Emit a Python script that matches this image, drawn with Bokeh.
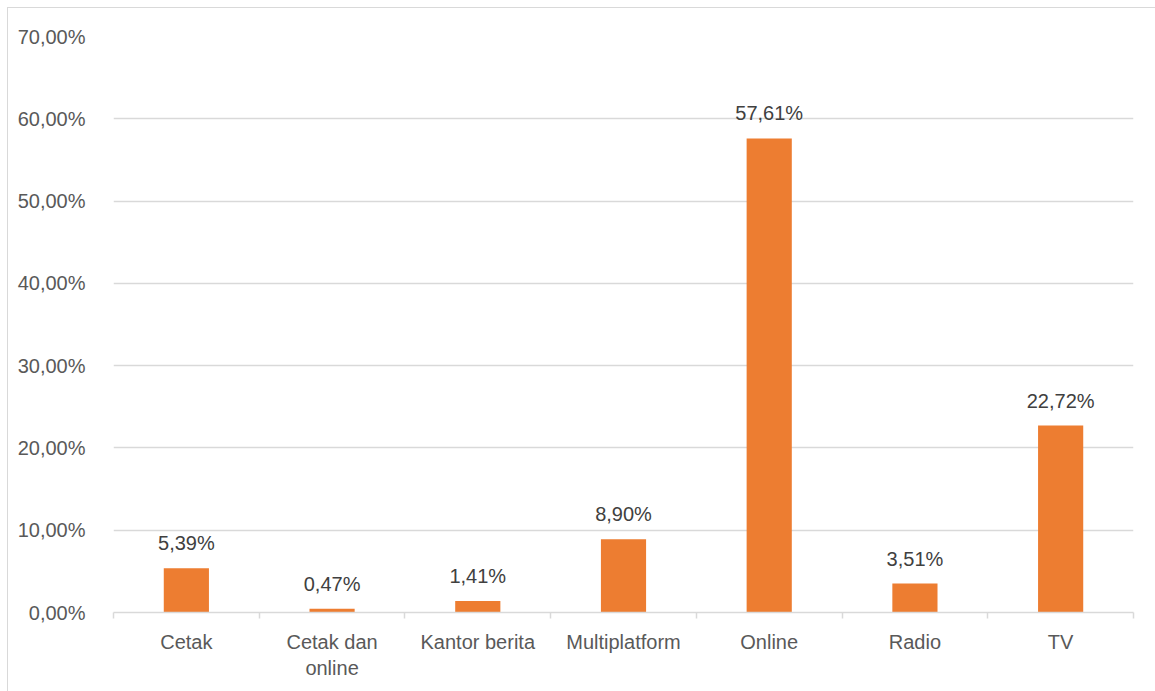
from bokeh.plotting import figure
from bokeh.models import FixedTicker, CustomJSTickFormatter, ColumnDataSource, Range1d
from bokeh.core.properties import value
from bokeh.embed import file_html
from bokeh.resources import INLINE

categories = ["Cetak", "Cetak dan\nonline", "Kantor berita", "Multiplatform", "Online", "Radio", "TV"]
values = [5.39, 0.47, 1.41, 8.90, 57.61, 3.51, 22.72]
labels = ["5,39%", "0,47%", "1,41%", "8,90%", "57,61%", "3,51%", "22,72%"]
y_ticks = [0, 10, 20, 30, 40, 50, 60, 70]

FONT = "Liberation Sans"
FS = "20px"
xs = [i + 0.5 for i in range(len(categories))]
src = ColumnDataSource(dict(x=xs, top=values, label=labels))

p = figure(width=1148, height=684, output_backend="svg", toolbar_location=None,
           x_range=Range1d(0, len(categories)), y_range=Range1d(0, 70),
           min_border_left=105, min_border_right=23, min_border_top=28, min_border_bottom=80,
           margin=(7, 0, 0, 7), outline_line_color=None,
           styles={"border-top": "1px solid #d9d9d9", "border-left": "1px solid #d9d9d9",
                   "box-sizing": "border-box"})

p.vbar(x="x", top="top", width=0.31, source=src, fill_color="#ED7D31", line_color=None)
p.text(x="x", y="top", text="label", source=src, text_align="center", text_baseline="bottom",
       y_offset=-14, text_font=value(FONT), text_font_size=FS, text_color="#404040")

p.yaxis.ticker = FixedTicker(ticks=y_ticks)
p.yaxis.formatter = CustomJSTickFormatter(code="return tick.toFixed(2).replace('.', ',') + '%';")
p.yaxis.axis_line_color = None
p.yaxis.major_tick_line_color = None
p.yaxis.minor_tick_line_color = None
p.yaxis.major_label_standoff = 22
p.yaxis.major_label_text_font = FONT
p.yaxis.major_label_text_font_size = FS
p.yaxis.major_label_text_color = "#595959"

p.xaxis.ticker = FixedTicker(ticks=xs, minor_ticks=list(range(len(categories) + 1)))
p.xaxis.major_label_overrides = {x: c for x, c in zip(xs, categories)}
p.xaxis.major_tick_line_color = None
p.xaxis.minor_tick_line_color = "#d9d9d9"
p.xaxis.minor_tick_line_width = 1.5
p.xaxis.minor_tick_out = 6
p.xaxis.minor_tick_in = 0
p.xaxis.axis_line_color = "#d9d9d9"
p.xaxis.axis_line_width = 1.5
p.xaxis.major_label_standoff = 12
p.xaxis.major_label_text_font = FONT
p.xaxis.major_label_text_font_size = FS
p.xaxis.major_label_text_color = "#595959"

p.xgrid.grid_line_color = None
p.ygrid.ticker = FixedTicker(ticks=y_ticks[1:])
p.ygrid.grid_line_color = "#d9d9d9"
p.ygrid.grid_line_width = 1.5

open("out.html", "w").write(file_html(p, INLINE))
